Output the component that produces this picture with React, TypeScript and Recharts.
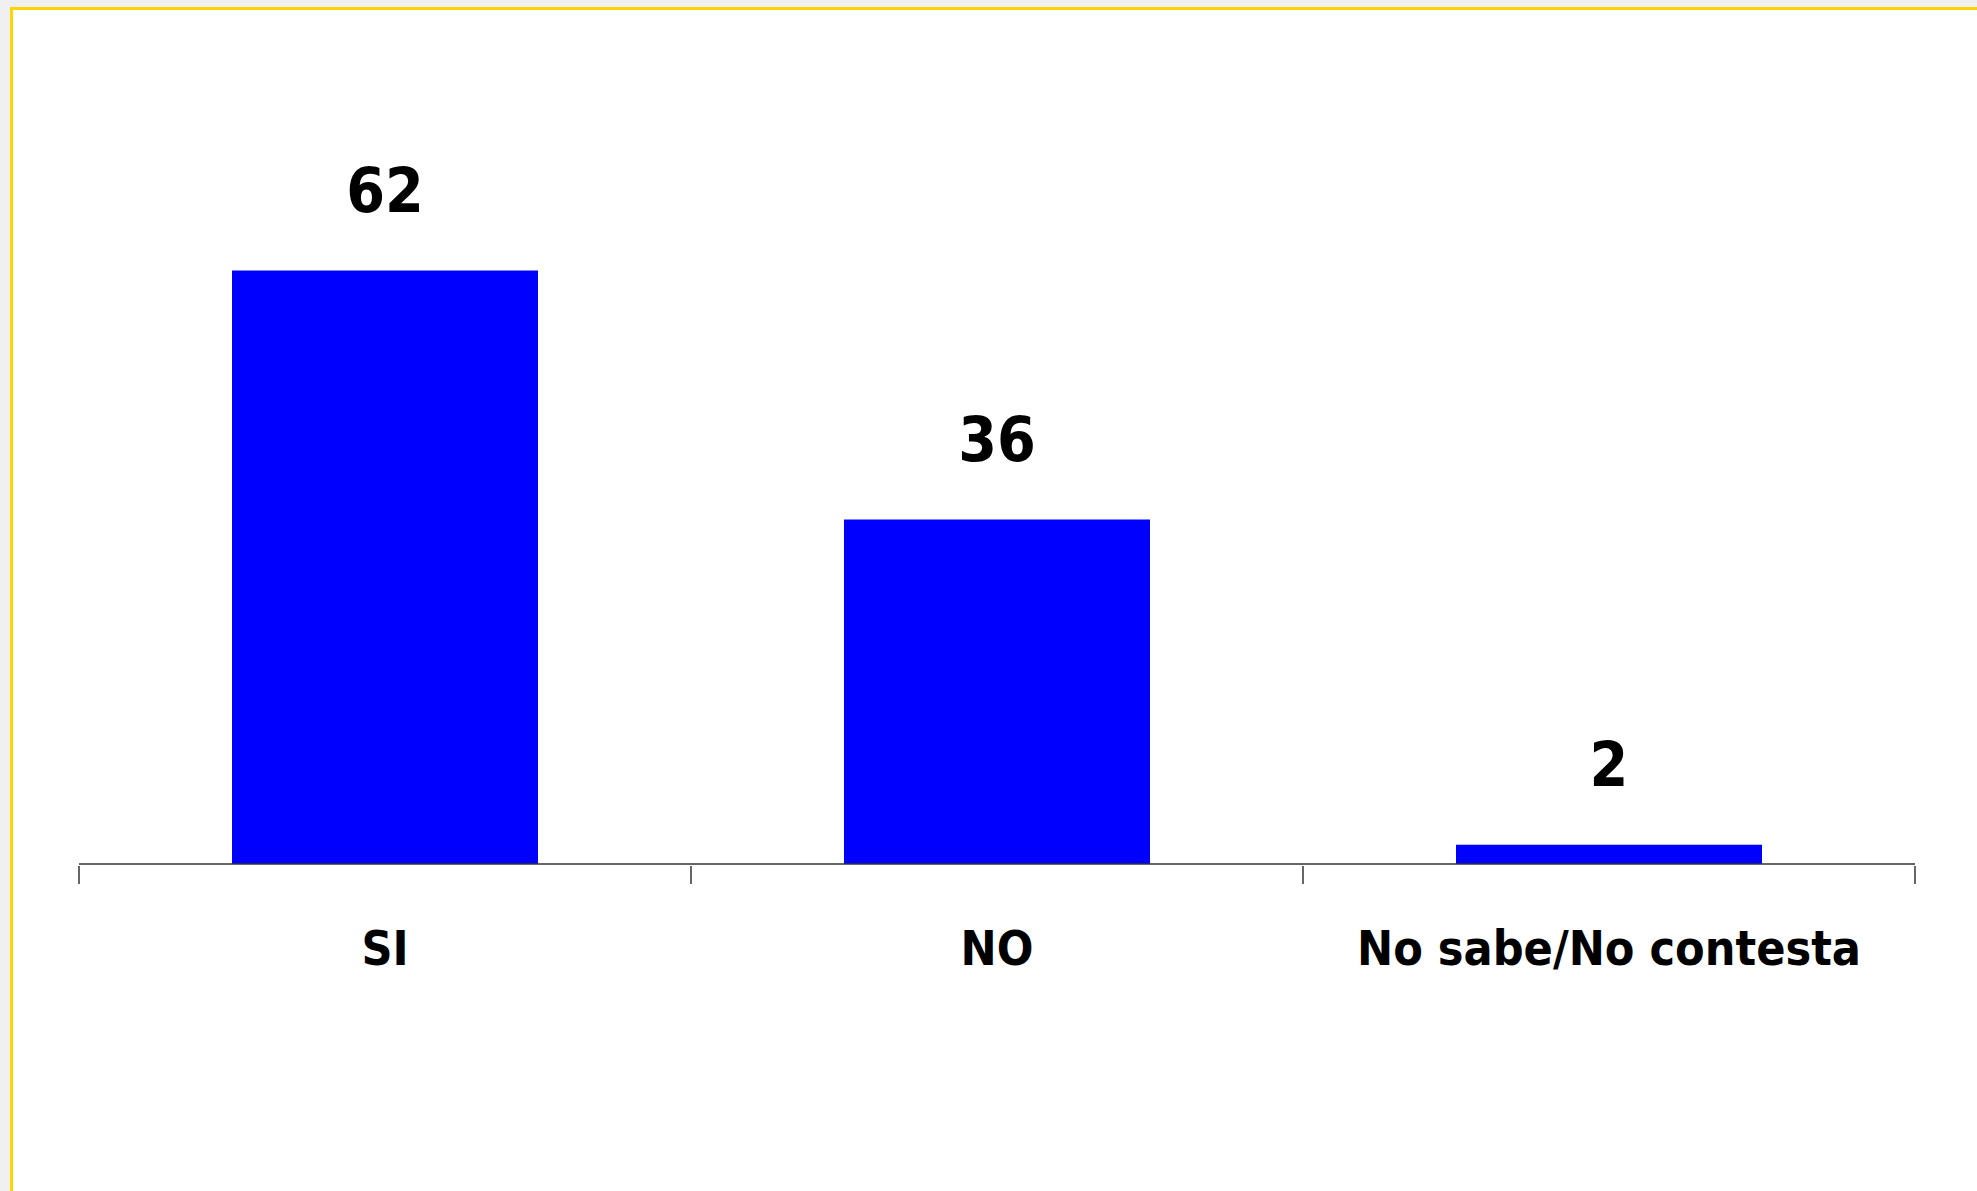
import React from "react";
import { BarChart, Bar, XAxis, YAxis, LabelList } from "recharts";

const categories = ["SI", "NO", "No sabe/No contesta"];
const values = [62, 36, 2];

const data = categories.map((name, i) => ({ name, value: values[i] }));

const FONT = "'DejaVu Sans Condensed', 'DejaVu Sans', sans-serif";
const AXIS = "#333";

// ticks sit on category boundaries, not on centres
function CategoryTick(props: any) {
  const { x, y, payload, index } = props;
  const half = payload && payload.offset ? payload.offset : 306;
  const top = y - 8;
  const last = index === categories.length - 1;
  return (
    <g>
      <line x1={x - half} x2={x - half} y1={top} y2={top + 18} stroke={AXIS} strokeWidth={1.5} />
      {last && (
        <line x1={x + half} x2={x + half} y1={top} y2={top + 18} stroke={AXIS} strokeWidth={1.5} />
      )}
      <text
        x={x}
        y={y + 74}
        textAnchor="middle"
        dominantBaseline="central"
        fontFamily={FONT}
        fontWeight="bold"
        fontSize={48}
        fill="#000"
      >
        {payload.value}
      </text>
    </g>
  );
}

function ValueLabel(props: any) {
  const { x, y, width, value } = props;
  return (
    <text
      x={x + width / 2}
      y={y - 80}
      textAnchor="middle"
      dominantBaseline="central"
      fontFamily={FONT}
      fontWeight="bold"
      fontSize={62}
      fill="#000"
    >
      {value}
    </text>
  );
}

export default function App() {
  return (
    <div
      style={{
        position: "absolute",
        left: 0,
        top: 0,
        width: 1977,
        height: 1191,
        background: "#f0f0f0",
        overflow: "hidden",
      }}
    >
      <div
        style={{
          position: "absolute",
          left: 10,
          top: 7,
          width: 1977,
          height: 1191,
          background: "#fff",
          borderLeft: "3px solid #ffd400",
          borderTop: "3px solid #ffd400",
        }}
      />
      <div style={{ position: "absolute", left: 0, top: 0 }}>
        <BarChart
          width={1977}
          height={1191}
          data={data}
          margin={{ top: 194, right: 62, bottom: 227, left: 79 }}
          barCategoryGap="25%"
        >
          <XAxis
            dataKey="name"
            height={100}
            tickSize={8}
            axisLine={{ stroke: AXIS, strokeWidth: 1.5 }}
            tickLine={false}
            tick={<CategoryTick />}
            interval={0}
          />
          <YAxis hide domain={[0, 70]} />
          <Bar dataKey="value" fill="#0000ff" isAnimationActive={false}>
            <LabelList dataKey="value" content={<ValueLabel />} />
          </Bar>
        </BarChart>
      </div>
    </div>
  );
}
